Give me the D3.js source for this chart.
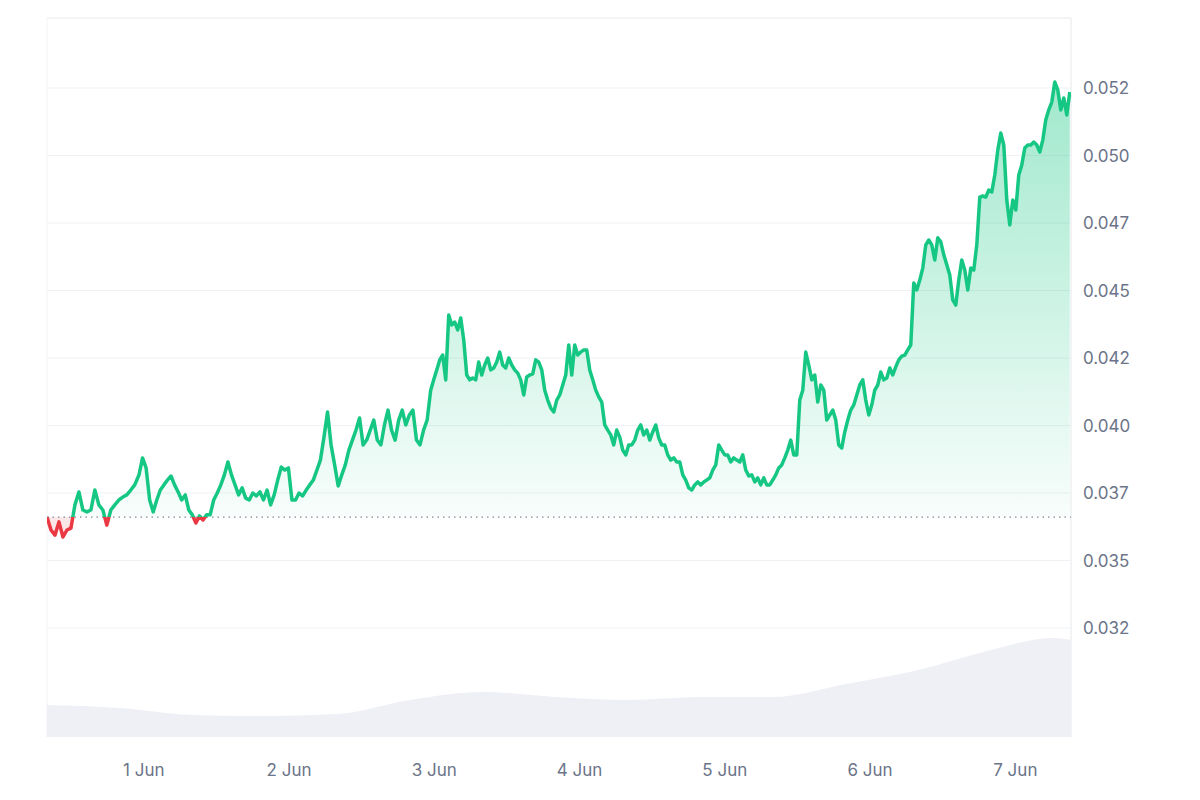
<!DOCTYPE html>
<html>
<head>
<meta charset="utf-8">
<script src="https://cdn.jsdelivr.net/npm/d3@7"></script>
<style>
  body { margin: 0; background: #fff; }
  text { font-family: Inter, "Noto Sans", sans-serif; }
</style>
</head>
<body>
<svg id="chart" width="1200" height="800"></svg>
<script>
// price segments: [startHour, endHour, prices (x1e-4)], hours from 31 May 08:00
const priceSegments = [
  [0, 14.5, [366.1,361.3,359.4,364.3,358.7,361.3,362.0,370.6,375.4,368.7,368.0,368.7,376.1,370.6,368.7,363.1,368.7,
             370.6,372.4,373.5,374.3,376.1,378.0]],
  [15.2, 63.4, [381.7,388.0,384.3,372.4,368.0,372.4,376.1,378.0,379.8,381.3,378.0,375.4,372.4,374.3,368.7,366.9,363.9,
             366.5,365.0,366.9,366.9,372.4,375.0,378.0,381.7,386.5,381.7,378.0,374.3,376.9,373.1,372.4,375.0,373.9,
             375.4,372.4,376.1,370.6,374.3,379.8,384.6,383.5,384.3,372.4,372.4,375.0,373.9,376.1,378.0,379.8,383.5,
             387.2,395.7,405.0,392.8,385.4,377.6,381.7,385.4,390.9,394.6,398.3,402.8,392.8,394.6,398.3,402.0,394.6,
             392.8,400.2,405.7,398.3,394.6,402.0,405.7,400.2,403.9,405.7,394.6,392.8,398.3,402.0,413.1]],
  [63.9, 169.0, [416.9,420.6,424.3,426.1,416.9,440.9,437.2,438.3,435.4,439.8,431.7,418.7,416.9,417.6,416.9,423.5,
             418.7,422.4,425.0,420.6,421.3,423.5,427.2,422.4,421.3,425.0,422.4,420.6,419.4,416.9,411.3,418.0,418.7,
             419.1,424.3,423.5,420.6,413.1,409.4,406.5,405.0,409.4,411.3,415.0,418.7,429.8,418.7,429.8,426.1,427.2,
             428.0,428.0,420.6,416.9,413.1,410.6,408.7,400.2,398.3,396.5,392.8,398.3,395.7,390.9,389.1,392.8,392.8,
             394.6,398.3,400.2,396.5,398.3,394.6,397.6,400.2,395.4,392.8,392.8,389.1,387.2,388.0,386.5,386.5,381.7,
             379.8,376.9,376.1,378.0,379.1,378.0,379.1,379.8,380.6,383.5,385.4,392.8,390.9,389.1,389.1,386.5,388.0,
             387.2,386.5,389.1,383.5,381.3,381.7,379.1,380.6,378.0,380.6,378.0,378.0,379.8,381.7,384.3,385.4,388.0,
             390.9,394.6,389.1,389.1,409.4,413.1,427.2,422.4,416.9,418.7,408.7,415.0,413.1,402.0,403.9,405.7,402.0,
             392.8,391.7,397.6,402.0,405.7,407.6,411.3,415.0,416.9,409.4,403.9,407.6,413.1,415.0,419.8,416.9,417.6,
             421.3,418.7,421.7,424.3,425.7,426.1,428.0,429.8,452.8,450.2,453.9,458.3,466.9,468.7,466.9,461.3,469.5,
             468.0,463.2,459.5,455.7,446.5,444.6,453.9,461.3,457.6,450.2,458.3,457.6,466.9,484.6,485.0,484.6,487.2,
             486.5,492.8,502.0,508.3,503.9,483.5,474.3,483.5,479.8,492.8,496.5,502.8,503.9,503.9,505.0,503.9,501.3,
             505.7,513.2,516.9,519.8,527.2,524.3,516.9,521.3,515.0,523.5]]
];
const baselinePrice = 366.1;
// volume every 12h (relative units)
const volumeHours = [0, 12, 24, 36, 48, 60, 72, 84, 96, 108, 120, 132, 144, 156, 166, 169.2];
const volumeValues = [32, 29, 22, 21, 23, 37, 45, 40, 37, 40, 40, 53, 67, 87, 99, 97];
const yTicks = [325, 350, 375, 400, 425, 450, 475, 500, 525];
const xTickLabels = ["1 Jun", "2 Jun", "3 Jun", "4 Jun", "5 Jun", "6 Jun", "7 Jun"];
const xTickHours = [16, 40, 64, 88, 112, 136, 160];

const green = "#16c784", red = "#ea3943";
const plotL = 47, plotR = 1071, plotT = 18, plotB = 737;

const data = [];
priceSegments.forEach(([h0, h1, vals]) => {
  const step = (h1 - h0) / (vals.length - 1);
  vals.forEach((v, i) => data.push({ h: h0 + i * step, v }));
});

const x = d3.scaleLinear().domain([0, 169.2]).range([plotL, plotR]);
const y = d3.scaleLinear().domain([375, 400]).range([493, 425.5]);
const yv = d3.scaleLinear().domain([0, 100]).range([plotB, plotB - 100]);

const svg = d3.select("#chart");
const defs = svg.append("defs");

const gg = defs.append("linearGradient").attr("id", "gGreen")
  .attr("gradientUnits", "userSpaceOnUse").attr("x1", 0).attr("x2", 0)
  .attr("y1", y(525)).attr("y2", y(baselinePrice));
gg.append("stop").attr("offset", 0).attr("stop-color", green).attr("stop-opacity", 0.4);
gg.append("stop").attr("offset", 1).attr("stop-color", green).attr("stop-opacity", 0.03);

defs.append("clipPath").attr("id", "above").append("rect")
  .attr("x", plotL).attr("y", plotT).attr("width", plotR - plotL).attr("height", y(baselinePrice) - plotT);
defs.append("clipPath").attr("id", "below").append("rect")
  .attr("x", plotL).attr("y", y(baselinePrice)).attr("width", plotR - plotL).attr("height", plotB - y(baselinePrice));

// frame
svg.append("line").attr("x1", plotL).attr("x2", plotR).attr("y1", plotT).attr("y2", plotT).attr("stroke", "#e6e8ec");
svg.append("line").attr("x1", plotR).attr("x2", plotR).attr("y1", plotT).attr("y2", plotB).attr("stroke", "#e6e8ec");
svg.append("line").attr("x1", plotL).attr("x2", plotL).attr("y1", plotT).attr("y2", plotB).attr("stroke", "#f3f4f6");

// grid + labels
svg.append("g").selectAll("line").data(yTicks).join("line")
  .attr("x1", plotL).attr("x2", plotR).attr("y1", d => y(d)).attr("y2", d => y(d))
  .attr("stroke", "#eff1f4");
svg.append("g").selectAll("text").data(yTicks).join("text")
  .attr("x", 1083).attr("y", d => y(d) + 6)
  .attr("font-size", 17).attr("fill", "#6b7488")
  .text(d => (Math.floor(d / 10) / 1000).toFixed(3));

// volume
svg.append("path").datum(volumeHours.map((h, i) => ({ h, v: volumeValues[i] })))
  .attr("fill", "#eef0f5")
  .attr("d", d3.area().x(d => x(d.h)).y0(plotB).y1(d => yv(d.v)).curve(d3.curveMonotoneX));

// price area + line
const area = d3.area().x(d => x(d.h)).y0(y(baselinePrice)).y1(d => y(d.v));
const line = d3.line().x(d => x(d.h)).y(d => y(d.v));
svg.append("path").datum(data).attr("clip-path", "url(#above)").attr("fill", "url(#gGreen)").attr("d", area);
svg.append("path").datum(data).attr("clip-path", "url(#below)").attr("fill", red).attr("fill-opacity", 0.12).attr("d", area);

svg.append("line").attr("x1", plotL).attr("x2", plotR)
  .attr("y1", y(baselinePrice)).attr("y2", y(baselinePrice))
  .attr("stroke", "#808a9d").attr("stroke-width", 1.3).attr("stroke-dasharray", "1.5,4");

svg.append("path").datum(data).attr("clip-path", "url(#above)")
  .attr("fill", "none").attr("stroke", green).attr("stroke-width", 3.5).attr("stroke-linejoin", "round").attr("d", line);
svg.append("path").datum(data).attr("clip-path", "url(#below)")
  .attr("fill", "none").attr("stroke", red).attr("stroke-width", 3.5).attr("stroke-linejoin", "round").attr("d", line);

// x labels
svg.append("g").selectAll("text").data(xTickHours).join("text")
  .attr("x", d => x(d)).attr("y", 776).attr("text-anchor", "middle")
  .attr("font-size", 17).attr("fill", "#6b7488")
  .text((d, i) => xTickLabels[i]);
</script>
</body>
</html>
